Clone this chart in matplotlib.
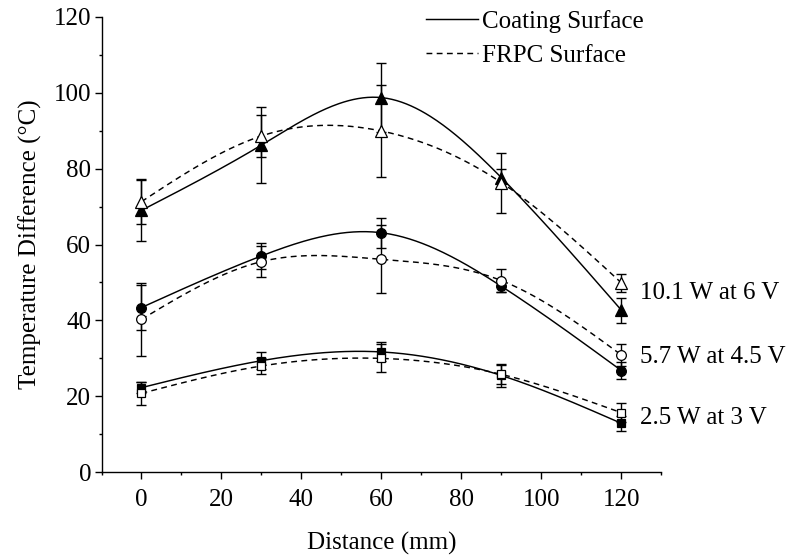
import numpy as np
import matplotlib
matplotlib.use("Agg")
import matplotlib.pyplot as plt
from matplotlib.lines import Line2D
from matplotlib.ticker import MultipleLocator

plt.rcParams['font.family'] = ['Liberation Serif', 'DejaVu Serif']

# ---- data ----
distance = [0, 30, 60, 90, 120]

coat_10 = [69.0, 86.2, 98.7, 77.6, 42.7]
coat_10_err = [8.0, 10.0, 9.0, 2.4, 3.3]
frpc_10 = [71.3, 88.6, 89.9, 76.3, 49.9]
frpc_10_err = [6.0, 5.5, 12.0, 7.9, 2.4]

coat_57 = [43.4, 57.0, 63.1, 49.0, 26.8]
coat_57_err = [6.0, 3.5, 4.0, 1.5, 2.3]
frpc_57 = [40.3, 55.5, 56.1, 50.5, 30.9]
frpc_57_err = [9.6, 4.0, 9.0, 3.0, 2.9]

coat_25 = [22.3, 29.4, 31.7, 25.5, 12.9]
coat_25_err = [1.5, 2.2, 2.5, 3.0, 1.9]
frpc_25 = [20.8, 28.0, 30.0, 25.8, 15.7]
frpc_25_err = [3.0, 2.0, 3.7, 2.5, 2.5]

power_labels = ["10.1 W at 6 V", "5.7 W at 4.5 V", "2.5 W at 3 V"]
power_label_y = [47.2, 30.4, 14.2]
legend_labels = ["Coating Surface", "FRPC Surface"]


def natural_spline(x, y, xs):
    x = np.asarray(x, float); y = np.asarray(y, float)
    n = len(x)
    h = np.diff(x)
    A = np.zeros((n, n)); b = np.zeros(n)
    A[0, 0] = 1; A[-1, -1] = 1
    for i in range(1, n - 1):
        A[i, i - 1] = h[i - 1]
        A[i, i] = 2 * (h[i - 1] + h[i])
        A[i, i + 1] = h[i]
        b[i] = 6 * ((y[i + 1] - y[i]) / h[i] - (y[i] - y[i - 1]) / h[i - 1])
    M = np.linalg.solve(A, b)
    out = np.empty_like(xs)
    for k, xv in enumerate(xs):
        i = min(np.searchsorted(x, xv, side='right') - 1, n - 2)
        i = max(i, 0)
        t1 = x[i + 1] - xv; t0 = xv - x[i]
        out[k] = (M[i] * t1**3 / (6 * h[i]) + M[i + 1] * t0**3 / (6 * h[i])
                  + (y[i] / h[i] - M[i] * h[i] / 6) * t1
                  + (y[i + 1] / h[i] - M[i + 1] * h[i] / 6) * t0)
    return out


fig = plt.figure(figsize=(7.93, 5.58), dpi=100)
ax = fig.add_axes([0.128, 0.1536, 0.706, 0.8164])

xs = np.linspace(distance[0], distance[-1], 300)
dash = (0, (4, 3))
lw = 1.05
FS = 18

series = [
    (coat_10, coat_10_err, '^', 'k', '-', 8.0),
    (frpc_10, frpc_10_err, '^', 'w', dash, 8.0),
    (coat_57, coat_57_err, 'o', 'k', '-', 7.0),
    (frpc_57, frpc_57_err, 'o', 'w', dash, 7.0),
    (coat_25, coat_25_err, 's', 'k', '-', 6.2),
    (frpc_25, frpc_25_err, 's', 'w', dash, 6.2),
]

for vals, err, mk, fc, ls, ms in series:
    ax.plot(xs, natural_spline(distance, vals, xs), color='k', lw=lw, ls=ls, zorder=2)
    ax.errorbar(distance, vals, yerr=err, fmt='none', ecolor='k', elinewidth=1.0,
                capsize=3.5, capthick=1.0, zorder=3)
    ax.plot(distance, vals, ls='none', marker=mk, ms=ms, mfc=fc, mec='k',
            mew=0.9, zorder=4)

ax.set_xlim(-10, 130)
ax.set_ylim(0, 120)
ax.xaxis.set_major_locator(MultipleLocator(20))
ax.xaxis.set_minor_locator(MultipleLocator(10))
ax.yaxis.set_major_locator(MultipleLocator(20))
ax.yaxis.set_minor_locator(MultipleLocator(10))
for s in ['top', 'right']:
    ax.spines[s].set_visible(False)
for s in ['left', 'bottom']:
    ax.spines[s].set_linewidth(1.0)
ax.tick_params(which='major', direction='out', length=5, width=1.0, labelsize=FS)
ax.tick_params(which='minor', direction='out', length=2.5, width=1.0)
ax.tick_params(axis='x', which='major', pad=7)
ax.tick_params(axis='y', which='major', pad=2.5)

ax.set_xlabel("Distance (mm)", fontsize=FS, labelpad=15)
ax.set_ylabel("Temperature Difference (°C)", fontsize=FS, labelpad=8)

for lab, yv in zip(power_labels, power_label_y):
    ax.text(124.6, yv, lab, fontsize=FS, ha='left', va='center', clip_on=False)

handles = [Line2D([], [], color='k', lw=lw, ls='-'),
           Line2D([], [], color='k', lw=lw, ls=dash)]
ax.legend(handles, legend_labels, loc='upper left', frameon=False,
          bbox_to_anchor=(426 / 793, 1 - 10 / 558), bbox_transform=fig.transFigure,
          borderpad=0, borderaxespad=0, handlelength=2.08, handletextpad=0.16,
          labelspacing=0.45, fontsize=FS)

fig.savefig("out.png", dpi=100)
